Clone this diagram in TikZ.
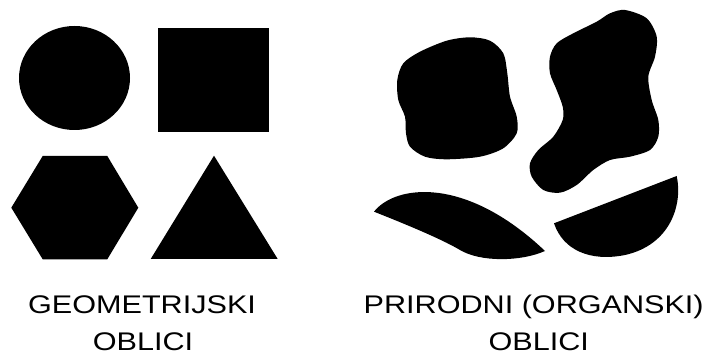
\documentclass[tikz,border=0pt]{standalone}
\usepackage{fontspec}
\setmainfont{Liberation Sans}
\begin{document}
\begin{tikzpicture}[x=1pt,y=-1pt,
  shapefill/.style={fill=black},
  label/.style={anchor=base,inner sep=0pt,font=\fontsize{25.5}{30}\selectfont}]
\useasboundingbox (0,0) rectangle (713,358);
% geometric shapes
\fill[shapefill] (74.5,78) ellipse [x radius=55.5, y radius=52];
\fill[shapefill] (158,28) rectangle (269,132);
\fill[shapefill] (42.7,156) -- (107.3,156) -- (138.3,207.7) -- (107.3,259.3) -- (42.7,259.3) -- (11.3,207.7) -- cycle;
\fill[shapefill] (214,155.7) -- (277.7,259) -- (150.7,259) -- cycle;
% organic shapes
\fill[shapefill] plot[smooth cycle] coordinates {
 (470,37.3) (446.7,40.7) (420,51.7) (403.3,63.3) (397.3,80) (398.3,100) (405,116.7)
 (406,133.3) (410,146.7) (425,156.7) (446.7,159.3) (480,156.7) (503.3,148.3)
 (516.7,133.3) (516.7,116.7) (510,96.7) (507.3,73.3) (503.3,53.3) (490,40.7)};
\fill[shapefill] plot[smooth cycle] coordinates {
 (625,10) (646.7,18.3) (656.7,36.7) (655,56.7) (648.3,76.7) (651.7,100) (658.3,120)
 (658.3,136.7) (650,150) (630,156.7) (610,160) (593.3,170) (576.7,185) (560,192.7)
 (543.3,190) (531.7,176.7) (530,163.3) (538.3,150) (553.3,136.7) (562.7,120)
 (562.7,106.7) (556.7,90) (550,73.3) (550,56.7) (556.7,43.3) (573.3,33.3)
 (596.7,21.7) (610,13.3)};
\fill[shapefill] (374,211.7) .. controls (395,185) and (465,175) .. (545,251)
  .. controls (520,262) and (480,262) .. (460,250)
  .. controls (440,238) and (395,220) .. (374,211.7) -- cycle;
\fill[shapefill] (554,223.3) -- (676.7,176) .. controls (683,205) and (670,245) .. (625,255)
  .. controls (590,262) and (563,250) .. (554,223.3) -- cycle;
% labels
\node[label] (g1) at (142,314) {\scalebox{1.2}[1]{GEOMETRIJSKI}};
\node[label] (g2) at (143,351) {\scalebox{1.2}[1]{OBLICI}};
\node[label] (o1) at (533.7,314) {\scalebox{1.2}[1]{PRIRODNI (ORGANSKI)}};
\node[label] (o2) at (538.7,351) {\scalebox{1.2}[1]{OBLICI}};
\end{tikzpicture}
\end{document}
